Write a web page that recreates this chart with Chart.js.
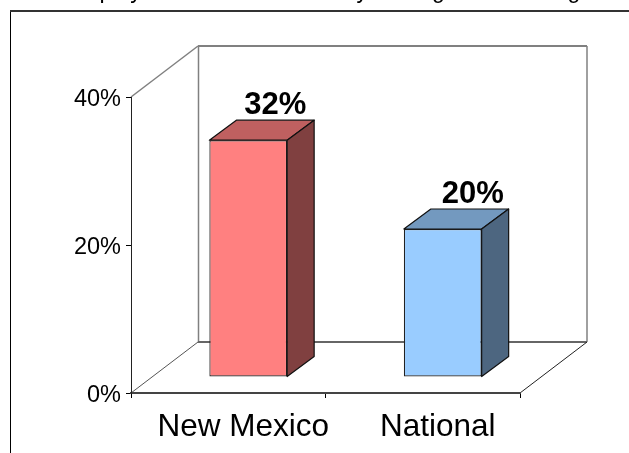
<!DOCTYPE html>
<html>
<head>
<meta charset="utf-8">
<style>
html, body { margin: 0; padding: 0; background: #fff; overflow: hidden; }
#wrap { width: 629px; height: 453px; position: relative; }
</style>
<script src="https://cdn.jsdelivr.net/npm/chart.js@4"></script>
</head>
<body>
<div id="wrap"><canvas id="myChart" width="629" height="453"></canvas></div>
<script>
var categories = ['New Mexico', 'National'];
var values = [32, 20];
var yTicks = [0, 20, 40];
var faceColors = ['#ff8080', '#99ccff'];
var topColors = ['#bf6060', '#7399bf'];
var sideColors = ['#804040', '#4d6680'];
var titleText = 'Employed Adults Without Any Savings for Housing';

// the pseudo 3D offsets, in pixels
var floorDx = 67, floorDy = 51;
var barShiftX = 20, barShiftY = 16;
var depthX = 27, depthY = 20;
var labelShiftX = [27, 30];

function poly(ctx, pts, fill, stroke, lw) {
    ctx.beginPath();
    ctx.moveTo(pts[0][0], pts[0][1]);
    for (var i = 1; i < pts.length; i++) ctx.lineTo(pts[i][0], pts[i][1]);
    ctx.closePath();
    if (fill) { ctx.fillStyle = fill; ctx.fill(); }
    if (stroke) { ctx.strokeStyle = stroke; ctx.lineWidth = lw || 1; ctx.stroke(); }
}

function line(ctx, x1, y1, x2, y2, color, lw) {
    ctx.beginPath();
    ctx.moveTo(x1, y1);
    ctx.lineTo(x2, y2);
    ctx.strokeStyle = color;
    ctx.lineWidth = lw;
    ctx.stroke();
}

var box3d = {
    id: 'box3d',
    // push the bars back onto the middle of the floor
    afterDatasetsUpdate: function (chart) {
        chart.getDatasetMeta(0).data.forEach(function (el) {
            el.x += barShiftX;
            el.y -= barShiftY;
            el.base -= barShiftY;
        });
    },
    beforeDraw: function (chart) {
        var ctx = chart.ctx, a = chart.chartArea;
        ctx.save();
        ctx.fillStyle = '#fff';
        ctx.fillRect(0, 0, chart.width, chart.height);
        // outer frame runs off the right and bottom of the picture
        line(ctx, 10.5, 11, 10.5, chart.height, '#000', 1);
        line(ctx, 10, 11, chart.width, 11, '#333', 2);
        // title, cut by the top edge
        ctx.fillStyle = '#000';
        ctx.font = '23px "Liberation Sans"';
        ctx.textAlign = 'left';
        ctx.textBaseline = 'alphabetic';
        ctx.fillText(titleText, 65, -2);
        // walls and floor
        var grey = '#808080';
        line(ctx, a.left, a.top, a.left + floorDx, a.top - floorDy, grey, 1.5);
        line(ctx, a.left + floorDx, a.top - floorDy, a.right + floorDx, a.top - floorDy, grey, 2);
        line(ctx, a.left + floorDx + 0.5, a.top - floorDy, a.left + floorDx + 0.5, a.bottom - floorDy, grey, 1.5);
        line(ctx, a.right + floorDx, a.top - floorDy, a.right + floorDx, a.bottom - floorDy, grey, 1.5);
        line(ctx, a.left + floorDx, a.bottom - floorDy, a.right + floorDx, a.bottom - floorDy, '#666', 2);
        line(ctx, a.left, a.bottom, a.left + floorDx, a.bottom - floorDy, '#555', 1);
        line(ctx, a.right, a.bottom, a.right + floorDx, a.bottom - floorDy, '#222', 1);
        ctx.restore();
    },
    afterDatasetsDraw: function (chart) {
        var ctx = chart.ctx;
        ctx.save();
        ctx.lineJoin = 'round';
        chart.getDatasetMeta(0).data.forEach(function (el, i) {
            var l = el.x - el.width / 2, r = el.x + el.width / 2;
            poly(ctx, [[l, el.y], [l + depthX, el.y - depthY], [r + depthX, el.y - depthY], [r, el.y]], topColors[i], '#111', 1.2);
            poly(ctx, [[r, el.y], [r + depthX, el.y - depthY], [r + depthX, el.base - depthY], [r, el.base]], sideColors[i], '#111', 1.2);
            ctx.fillStyle = '#000';
            ctx.font = 'bold 31px "Liberation Sans"';
            ctx.textAlign = 'center';
            ctx.textBaseline = 'alphabetic';
            ctx.fillText(values[i] + '%', el.x + labelShiftX[i], el.y - 26);
        });
        ctx.restore();
    }
};

var chart = new Chart(document.getElementById('myChart').getContext('2d'), {
    type: 'bar',
    data: {
        labels: categories,
        datasets: [{
            data: values,
            backgroundColor: faceColors,
            borderColor: '#222',
            borderWidth: 1.2,
            borderSkipped: false,
            barPercentage: 0.4,
            categoryPercentage: 1
        }]
    },
    plugins: [box3d],
    options: {
        responsive: false,
        animation: false,
        layout: { padding: { left: 0, top: 97, right: 109, bottom: 0 } },
        plugins: { legend: { display: false }, tooltip: { enabled: false } },
        scales: {
            x: {
                afterFit: function (scale) { scale.height = 60; },
                grid: { drawOnChartArea: false, color: '#000', tickLength: 5 },
                border: { display: true, color: '#444', width: 2 },
                ticks: {
                    color: '#000',
                    font: { family: 'Liberation Sans', size: 31.5 },
                    padding: 10,
                    labelOffset: 15,
                    maxRotation: 0
                }
            },
            y: {
                min: 0,
                max: 40,
                afterFit: function (scale) { scale.width = 131; },
                afterBuildTicks: function (scale) {
                    scale.ticks = yTicks.map(function (v) { return { value: v }; });
                },
                grid: { drawOnChartArea: false, color: '#000', tickLength: 5 },
                border: { display: true, color: '#222', width: 1 },
                ticks: {
                    color: '#000',
                    font: { family: 'Liberation Sans', size: 23.5 },
                    padding: 5,
                    labelOffset: 3,
                    callback: function (v) { return v + '%'; }
                }
            }
        }
    }
});
</script>
</body>
</html>
